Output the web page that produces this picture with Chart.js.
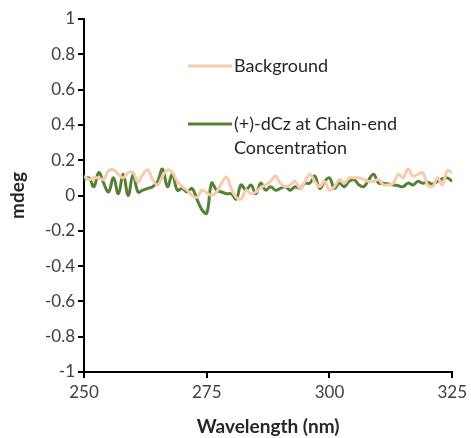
<!DOCTYPE html>
<html>
<head>
<meta charset="utf-8">
<script src="https://cdn.jsdelivr.net/npm/chart.js@4.4.0/dist/chart.umd.min.js"></script>
<style>
html,body{margin:0;padding:0;background:#fff;}
#wrap{width:471px;height:438px;position:relative;}
</style>
</head>
<body>
<div id="wrap"><canvas id="c" width="471" height="438"></canvas></div>
<script>
const wavelengths = [250,251,252,253,254,255,256,257,258,259,260,261,262,263,264,265,266,267,268,269,270,271,272,273,274,275,276,277,278,279,280,281,282,283,284,285,286,287,288,289,290,291,292,293,294,295,296,297,298,299,300,301,302,303,304,305,306,307,308,309,310,311,312,313,314,315,316,317,318,319,320,321,322,323,324,325];
const background = [0.11,0.09,0.10,0.10,0.09,0.14,0.145,0.12,0.10,0.13,0.13,0.075,0.12,0.145,0.09,0.06,0.11,0.145,0.13,0.08,0.05,0.03,0.00,-0.01,0.03,0.015,0.00,0.02,0.07,0.105,0.04,-0.01,-0.02,0.03,0.01,0.02,0.045,0.06,0.08,0.11,0.07,0.05,0.06,0.08,0.04,0.08,0.12,0.08,0.05,0.08,0.03,0.05,0.09,0.07,0.10,0.10,0.10,0.09,0.08,0.08,0.09,0.06,0.06,0.07,0.12,0.10,0.15,0.11,0.12,0.13,0.06,0.05,0.10,0.06,0.14,0.13];
const dCz = [0.09,0.10,0.05,0.13,0.07,0.02,0.10,0.01,0.12,0.00,0.12,0.02,0.03,0.04,0.05,0.08,0.15,0.05,0.12,0.03,0.04,0.02,0.04,-0.02,-0.08,-0.10,0.07,0.03,0.02,0.01,0.01,-0.02,0.06,0.03,0.06,0.01,0.07,0.03,0.05,0.03,0.04,0.05,0.03,0.05,0.04,0.07,0.07,0.11,0.04,0.08,0.10,0.04,0.07,0.05,0.08,0.09,0.06,0.05,0.09,0.12,0.07,0.07,0.065,0.06,0.055,0.05,0.07,0.06,0.08,0.07,0.075,0.065,0.08,0.095,0.10,0.08];
const seriesLabels = [["Background"], ["(+)-dCz at Chain-end", "Concentration"]];
const xTicks = [250, 275, 300, 325];
const yRange = [-1, 1];
const xTitle = "Wavelength (nm)";
const yTitle = "mdeg";

const FONT = "Lato, 'Open Sans', sans-serif";

const legendPlugin = {
  id: 'inlineLegend',
  afterDatasetsDraw(chart) {
    const ctx = chart.ctx;
    const items = [
      {ds: 0, y: 66},
      {ds: 1, y: 124}
    ];
    ctx.save();
    items.forEach(it => {
      const d = chart.data.datasets[it.ds];
      ctx.strokeStyle = d.borderColor;
      ctx.lineWidth = d.borderWidth;
      ctx.beginPath();
      ctx.moveTo(188, it.y);
      ctx.lineTo(232, it.y);
      ctx.stroke();
      ctx.fillStyle = '#262626';
      ctx.font = "18px " + FONT;
      ctx.textBaseline = 'middle';
      ctx.textAlign = 'left';
      seriesLabels[it.ds].forEach((t, i) => ctx.fillText(t, 234, it.y + i * 24));
    });
    ctx.restore();
  }
};

const tickMarkPlugin = {
  id: 'tickMarks',
  afterDraw(chart) {
    const ctx = chart.ctx;
    const xs = chart.scales.x, ys = chart.scales.y;
    const ca = chart.chartArea;
    ctx.save();
    ctx.strokeStyle = '#000';
    ctx.lineWidth = 2;
    ctx.beginPath();
    ys.ticks.forEach(t => {
      const py = Math.round(ys.getPixelForValue(t.value));
      ctx.moveTo(ca.left - 6, py);
      ctx.lineTo(ca.left, py);
    });
    xs.ticks.forEach(t => {
      const px = Math.round(xs.getPixelForValue(t.value));
      ctx.moveTo(px, ca.bottom);
      ctx.lineTo(px, ca.bottom + 6);
    });
    ctx.stroke();
    ctx.restore();
  }
};

new Chart(document.getElementById('c'), {
  type: 'line',
  data: {
    datasets: [
      {
        label: seriesLabels[0].join(' '),
        data: wavelengths.map((w, i) => ({x: w, y: background[i]})),
        borderColor: '#F8CBAD',
        borderWidth: 3,
        pointRadius: 0,
        tension: 0.4,
        fill: false
      },
      {
        label: seriesLabels[1].join(' '),
        data: wavelengths.map((w, i) => ({x: w, y: dCz[i]})),
        borderColor: '#548235',
        borderWidth: 3,
        pointRadius: 0,
        tension: 0.4,
        fill: false
      }
    ]
  },
  options: {
    responsive: false,
    animation: false,
    layout: {padding: {top: 19, right: 16, bottom: 0, left: 0}},
    plugins: {legend: {display: false}, tooltip: {enabled: false}},
    scales: {
      x: {
        type: 'linear',
        min: xTicks[0],
        max: xTicks[xTicks.length - 1],
        afterBuildTicks: s => { s.ticks = xTicks.map(v => ({value: v})); },
        afterFit: s => { s.height = 66; },
        border: {color: '#000', width: 2},
        grid: {display: true, drawOnChartArea: false, drawTicks: true, tickLength: 6, color: '#000', lineWidth: 2},
        ticks: {color: '#404040', font: {family: FONT, size: 17}, padding: 4, maxRotation: 0},
        title: {display: true, text: xTitle, color: '#262626', font: {family: FONT, size: 19, weight: 'bold'}, padding: {top: 4, bottom: 0}}
      },
      y: {
        min: yRange[0],
        max: yRange[1],
        afterFit: s => { s.width = 84; },
        border: {color: '#000', width: 2},
        grid: {display: true, drawOnChartArea: false, drawTicks: true, tickLength: 6, color: '#000', lineWidth: 2},
        ticks: {stepSize: 0.2, color: '#404040', font: {family: FONT, size: 17}, padding: 3,
                callback: v => String(Number(v.toFixed(1)))},
        title: {display: true, text: yTitle, color: '#262626', font: {family: FONT, size: 19, weight: 'bold'}, padding: {top: 6, bottom: 0}}
      }
    }
  },
  plugins: [legendPlugin, tickMarkPlugin]
});
</script>
</body>
</html>
